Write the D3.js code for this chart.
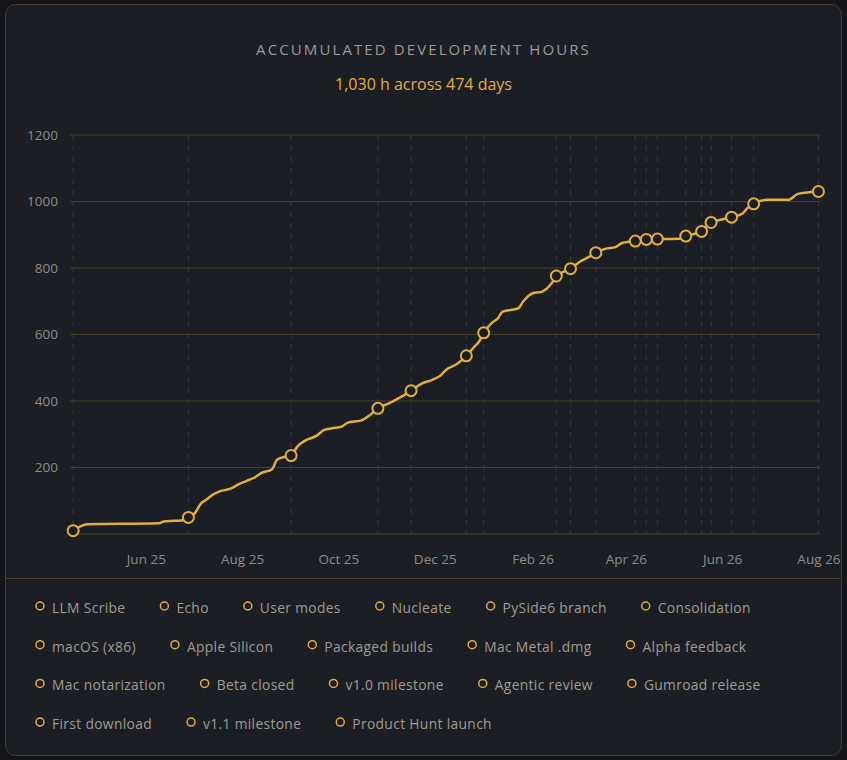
<!DOCTYPE html>
<html>
<head>
<meta charset="utf-8">
<script src="https://cdn.jsdelivr.net/npm/d3@7"></script>
<style>
  html, body { margin: 0; padding: 0; background: #131518; }
  #wrapper { width: 847px; height: 760px; }
  text { font-family: "Open Sans", "Noto Sans", sans-serif; }
</style>
</head>
<body>
<div id="wrapper"></div>
<script>
// milestones (legend + circles)
const milestoneNames = [
  'LLM Scribe', 'Echo', 'User modes', 'Nucleate', 'PySide6 branch', 'Consolidation',
  'macOS (x86)', 'Apple Silicon', 'Packaged builds', 'Mac Metal .dmg', 'Alpha feedback',
  'Mac notarization', 'Beta closed', 'v1.0 milestone', 'Agentic review', 'Gumroad release',
  'First download', 'v1.1 milestone', 'Product Hunt launch'
]
const milestoneDates = [
  '2025-04-16', '2025-06-28', '2025-09-01', '2025-10-26', '2025-11-16', '2025-12-21',
  '2026-01-01', '2026-02-16', '2026-02-25', '2026-03-13', '2026-04-07',
  '2026-04-14', '2026-04-21', '2026-05-09', '2026-05-19', '2026-05-25',
  '2026-06-07', '2026-06-21', '2026-08-01'
]
const milestoneHours = [
  10, 50, 236, 378, 431, 536,
  605, 776, 798, 846, 881,
  886, 887, 896, 910, 937,
  953, 993, 1030
]

// accumulated hours between milestones
const hourDates = [
  '2025-04-25', '2025-06-09', '2025-06-12', '2025-06-26',
  '2025-07-02', '2025-07-06', '2025-07-09', '2025-07-13', '2025-07-17', '2025-07-25',
  '2025-07-30', '2025-08-04', '2025-08-09', '2025-08-13', '2025-08-20', '2025-08-23',
  '2025-08-27', '2025-09-05', '2025-09-10', '2025-09-17', '2025-09-22', '2025-09-27',
  '2025-10-03', '2025-10-07', '2025-10-15', '2025-10-21', '2025-11-02', '2025-11-10',
  '2025-11-23', '2025-11-29', '2025-12-05', '2025-12-08', '2025-12-15', '2025-12-26',
  '2025-12-29', '2026-01-06', '2026-01-10', '2026-01-13', '2026-01-23', '2026-01-26',
  '2026-02-01', '2026-02-07', '2026-02-13', '2026-03-04', '2026-03-09', '2026-03-20',
  '2026-03-25', '2026-03-30', '2026-04-03', '2026-05-05', '2026-05-14', '2026-06-01',
  '2026-06-14', '2026-06-17', '2026-06-29', '2026-07-13', '2026-07-19', '2026-07-26'
]
const hourValues = [
  29, 32, 37, 42,
  62, 92, 102, 117, 127, 137,
  150, 160, 170, 183, 195, 223,
  231, 263, 281, 295, 313, 318,
  323, 335, 341, 358, 393, 413,
  453, 463, 478, 493, 511, 563,
  578, 634, 649, 669, 679, 699,
  724, 729, 754, 822, 834, 859,
  862, 876, 879, 888, 902, 946,
  964, 980, 1005, 1005, 1023, 1028
]

const yTickValues = [0, 200, 400, 600, 800, 1000, 1200]
const xTickDates = ['2025-06-01', '2025-08-01', '2025-10-01', '2025-12-01', '2026-02-01', '2026-04-01', '2026-06-01', '2026-08-01']
const xDomainDates = ['2025-04-14', '2026-08-02']

const titleText = 'ACCUMULATED DEVELOPMENT HOURS'
const subtitleText = '1,030 h across 474 days'

async function drawChart() {

  //access data
  const dateParser = d3.timeParse('%Y-%m-%d')
  const milestones = milestoneNames.map((name, i) => ({
    name: name,
    date: dateParser(milestoneDates[i]),
    hours: milestoneHours[i]
  }))
  const dataset = hourDates.map((d, i) => ({date: dateParser(d), hours: hourValues[i]}))
    .concat(milestones.map(d => ({date: d.date, hours: d.hours})))
    .sort((a, b) => a.date - b.date)

  const xAccessor = d => d.date
  const yAccessor = d => d.hours

  const colors = {
    page: '#131518',
    card: '#1b1e24',
    border: '#4a4128',
    grid: '#4a4026',
    dash: '#3c3b33',
    gold: '#e2ae3e',
    title: '#9b9a96',
    text: '#a19c90',
    tick: '#8e8d8a'
  }

  //create dimensions
  let dimensions = {
    width: 847,
    height: 760,
    margin: {
      top: 135,
      right: 27,
      bottom: 226,
      left: 70
    }
  }
  dimensions.boundedWidth = dimensions.width - dimensions.margin.left - dimensions.margin.right
  dimensions.boundedHeight = dimensions.height - dimensions.margin.top - dimensions.margin.bottom

  //create chart area
  const wrapper = d3.select('#wrapper')
    .append('svg')
      .attr('width', dimensions.width)
      .attr('height', dimensions.height)

  wrapper.append('rect')
      .attr('x', 5.5)
      .attr('y', 4.5)
      .attr('width', dimensions.width - 11)
      .attr('height', dimensions.height - 9)
      .attr('rx', 10)
      .attr('fill', colors.card)
      .attr('stroke', colors.border)

  wrapper.append('text')
      .attr('x', dimensions.width / 2)
      .attr('y', 55)
      .attr('text-anchor', 'middle')
      .attr('fill', colors.title)
      .style('font-size', '15px')
      .style('letter-spacing', '2.1px')
      .text(titleText)

  wrapper.append('text')
      .attr('x', dimensions.width / 2)
      .attr('y', 90)
      .attr('text-anchor', 'middle')
      .attr('fill', colors.gold)
      .style('font-size', '16px')
      .text(subtitleText)

  const bounds = wrapper.append('g')
    .style('transform', `translate(${dimensions.margin.left}px, ${dimensions.margin.top}px)`)

  //create scales
  const xScale = d3.scaleTime()
    .domain(xDomainDates.map(dateParser))
    .range([0, dimensions.boundedWidth])

  const yScale = d3.scaleLinear()
    .domain([0, 1200])
    .range([dimensions.boundedHeight, 0])

  //gridlines
  bounds.append('g')
    .selectAll('line')
    .data(yTickValues)
    .join('line')
      .attr('x1', 0)
      .attr('x2', dimensions.boundedWidth)
      .attr('y1', d => yScale(d))
      .attr('y2', d => yScale(d))
      .attr('stroke', colors.grid)
      .attr('stroke-width', 1)

  //milestone dashed lines
  bounds.append('g')
    .selectAll('line')
    .data(milestones)
    .join('line')
      .attr('x1', d => xScale(d.date))
      .attr('x2', d => xScale(d.date))
      .attr('y1', 0)
      .attr('y2', dimensions.boundedHeight)
      .attr('stroke', colors.dash)
      .attr('stroke-dasharray', '5,6')

  //draw line
  const lineGenerator = d3.line()
    .x(d => xScale(xAccessor(d)))
    .y(d => yScale(yAccessor(d)))
    .curve(d3.curveMonotoneX)

  bounds.append('path')
      .attr('d', lineGenerator(dataset))
      .attr('fill', 'none')
      .attr('stroke', colors.gold)
      .attr('stroke-width', 2.5)
      .attr('stroke-linejoin', 'round')

  bounds.append('g')
    .selectAll('circle')
    .data(milestones)
    .join('circle')
      .attr('cx', d => xScale(d.date))
      .attr('cy', d => yScale(d.hours))
      .attr('r', 5.5)
      .attr('fill', colors.card)
      .attr('stroke', colors.gold)
      .attr('stroke-width', 2)

  //draw axes
  const xAxisGenerator = d3.axisBottom()
    .scale(xScale)
    .tickValues(xTickDates.map(dateParser))
    .tickFormat(d3.timeFormat('%b %y'))
    .tickSize(0)
    .tickPadding(20)

  const xAxis = bounds.append('g')
    .call(xAxisGenerator)
      .style('transform', `translateY(${dimensions.boundedHeight}px)`)
  xAxis.select('.domain').remove()
  xAxis.selectAll('text')
      .attr('fill', colors.tick)
      .style('font-size', '13.5px')
      .style('font-family', '"Open Sans", sans-serif')

  const yAxisGenerator = d3.axisLeft()
    .scale(yScale)
    .tickValues(yTickValues.filter(d => d > 0))
    .tickFormat(d3.format('d'))
    .tickSize(0)
    .tickPadding(12)

  const yAxis = bounds.append('g')
    .call(yAxisGenerator)
  yAxis.select('.domain').remove()
  yAxis.selectAll('text')
      .attr('fill', colors.tick)
      .style('font-size', '13.5px')
      .style('font-family', '"Open Sans", sans-serif')

  //divider
  wrapper.append('line')
      .attr('x1', 6)
      .attr('x2', dimensions.width - 6)
      .attr('y1', 578.5)
      .attr('y2', 578.5)
      .attr('stroke', colors.border)

  //legend
  const legend = wrapper.append('g')
  let lx = 36
  let ly = 608
  const rowHeight = 38.7
  const maxX = 812
  milestones.forEach(d => {
    const item = legend.append('g')
    const label = item.append('text')
        .attr('x', 16)
        .attr('y', 0)
        .attr('dy', '0.35em')
        .attr('fill', colors.text)
        .style('font-size', '13.8px')
        .style('letter-spacing', '0.35px')
        .text(d.name)
    const w = 16 + label.node().getComputedTextLength()
    if (lx + w > maxX) {
      lx = 36
      ly += rowHeight
    }
    item.append('circle')
        .attr('cx', 4)
        .attr('cy', -2)
        .attr('r', 4)
        .attr('fill', 'none')
        .attr('stroke', colors.gold)
        .attr('stroke-width', 1.5)
    item.attr('transform', `translate(${lx}, ${ly})`)
    lx += w + 35
  })
}

drawChart()
</script>
</body>
</html>
